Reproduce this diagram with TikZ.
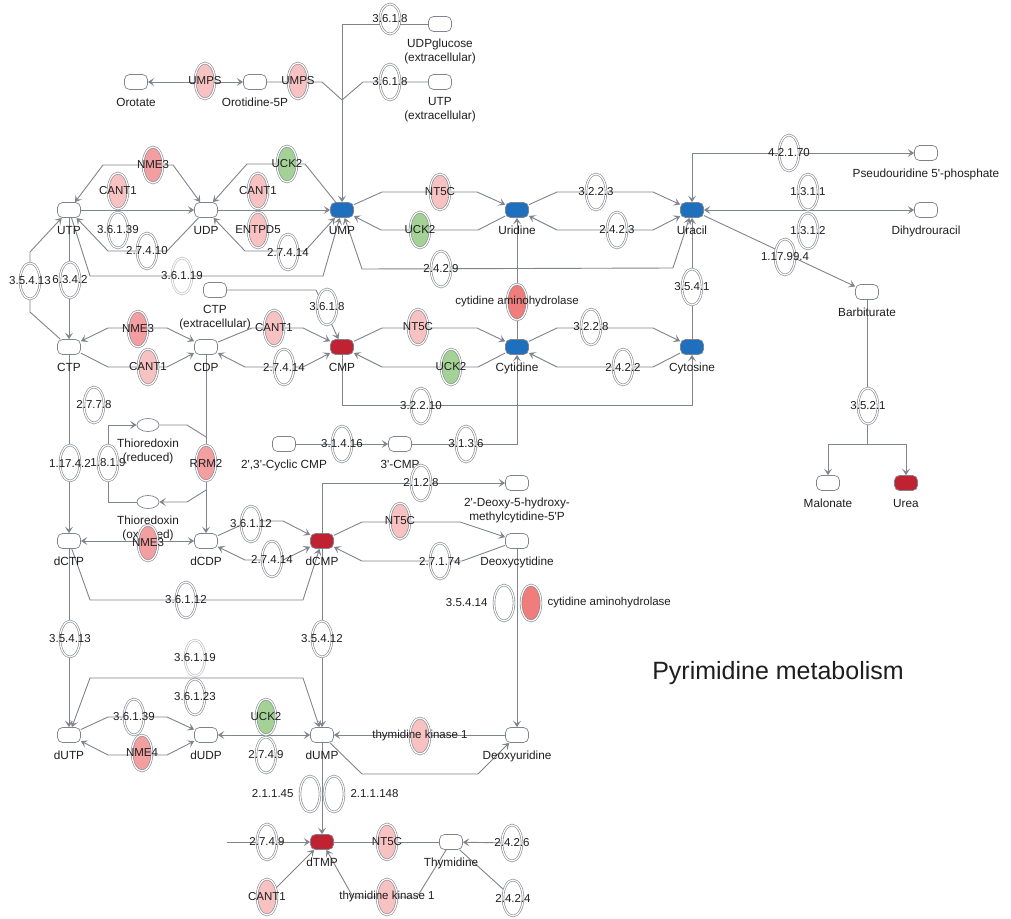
\documentclass[tikz,border=0pt]{standalone}
\usepackage{fontspec}
\setmainfont{Liberation Sans}
\usepackage{tikz}
\usetikzlibrary{arrows.meta,shapes.geometric}
\pgfdeclarelayer{bg}
\pgfsetlayers{bg,main}
\definecolor{lgray}{RGB}{128,132,140}
\definecolor{fgray}{RGB}{185,185,190}
\definecolor{txt}{RGB}{30,30,30}
\definecolor{mblue}{RGB}{30,112,190}
\definecolor{mred}{RGB}{192,34,50}
\definecolor{pinkA}{RGB}{248,194,194}
\definecolor{pinkB}{RGB}{243,158,160}
\definecolor{redE}{RGB}{240,124,124}
\definecolor{greenE}{RGB}{164,210,150}
\newcommand{\ap}{\textquotesingle}

\begin{document}
\begin{tikzpicture}[x=1pt, y=-1pt, label distance=6pt,
  met/.style={draw=lgray, fill=white, rounded corners=5pt, minimum width=23pt, minimum height=15pt, inner sep=0pt, line width=0.7pt},
  thio/.style={ellipse, draw=lgray, fill=white, minimum width=22pt, minimum height=13pt, inner sep=0pt, line width=0.7pt},
  enz/.style={ellipse, draw=lgray, double=white, double distance=1.2pt, line width=0.6pt, fill=white, minimum width=20pt, minimum height=36pt, inner sep=0pt},
  pA/.style={fill=pinkA}, pB/.style={fill=pinkB}, pR/.style={fill=redE}, gr/.style={fill=greenE}, faint/.style={draw=fgray},
  lbl/.style={font=\fontsize{11.8}{14}\selectfont, text=txt, inner sep=1pt, text height=9pt, text depth=2.5pt},
  lbl2/.style={font=\fontsize{11.8}{14}\selectfont, text=txt, inner sep=1pt, align=center},
  etxt/.style={font=\fontsize{11.5}{13}\selectfont, text=txt, inner sep=0pt},
  tag/.style={label={[lbl]below:#1}},
  tag2/.style={label={[lbl2]below:{#1}}},
  etx/.style={label={[etxt]center:#1}},
  ltx/.style={label={[etxt]left:#1}},
  rtx/.style={label={[etxt]right:#1}},
  ln/.style={draw=lgray, line width=0.9pt},
  arr/.style={ln, -{Stealth[length=6.5pt,width=8pt,inset=3pt]}},
  arrb/.style={ln, {Stealth[length=6.5pt,width=8pt,inset=3pt]}-{Stealth[length=6.5pt,width=8pt,inset=3pt]}},
  ttl/.style={font=\fontsize{25}{30}\selectfont, text=txt}]
\useasboundingbox (0,0) rectangle (1011,918);

\node[met, tag=Orotate] (orotate) at (136,82) {};
\node[met, tag=Orotidine-5P] (orot5p) at (255,82) {};
\node[met, tag2={UDPglucose\\(extracellular)}] (udpglc) at (440,24) {};
\node[met, tag2={UTP\\(extracellular)}] (utpext) at (440,82) {};
\node[met, tag=UTP] (utp) at (69,210) {};
\node[met, tag=UDP] (udp) at (206,210) {};
\node[met, fill=mblue, tag=UMP] (ump) at (342,210) {};
\node[met, fill=mblue, tag=Uridine] (uridine) at (517,210) {};
\node[met, fill=mblue, tag=Uracil] (uracil) at (692,210) {};
\node[met, tag={Pseudouridine 5\ap-phosphate}] (pseudo) at (926,153) {};
\node[met, tag=Dihydrouracil] (dihydro) at (926,210) {};
\node[met, tag=Barbiturate] (barb) at (867,292) {};
\node[met, tag2={CTP\\(extracellular)}] (ctpext) at (215,290) {};
\node[met, tag=CTP] (ctp) at (69,347) {};
\node[met, tag=CDP] (cdp) at (206,347) {};
\node[met, fill=mred, tag=CMP] (cmp) at (342,347) {};
\node[met, fill=mblue, tag=Cytidine] (cytidine) at (517,347) {};
\node[met, fill=mblue, tag=Cytosine] (cytosine) at (692,347) {};
\node[thio, tag2={Thioredoxin\\(reduced)}] (thiored) at (148,425) {};
\node[thio, tag2={Thioredoxin\\(oxidized)}] (thioox) at (148,502) {};
\node[met, tag={2\ap{},3\ap-Cyclic CMP}] (cyccmp) at (284,444) {};
\node[met, tag={3\ap-CMP}] (cmp3) at (400,444) {};
\node[met, tag2={2\ap-Deoxy-5-hydroxy-\\methylcytidine-5\ap P}] (dhmc) at (517,483) {};
\node[met, tag=Malonate] (malonate) at (828,483) {};
\node[met, fill=mred, tag=Urea] (urea) at (906,483) {};
\node[met, tag=dCTP] (dctp) at (69,541) {};
\node[met, tag=dCDP] (dcdp) at (206,541) {};
\node[met, fill=mred, tag=dCMP] (dcmp) at (322,541) {};
\node[met, tag=Deoxycytidine] (deoxycyt) at (517,541) {};
\node[met, tag=dUTP] (dutp) at (69,735) {};
\node[met, tag=dUDP] (dudp) at (206,735) {};
\node[met, tag=dUMP] (dump) at (322,735) {};
\node[met, tag=Deoxyuridine] (deoxyur) at (517,735) {};
\node[met, fill=mred, tag=dTMP] (dtmp) at (322,842) {};
\node[met, tag=Thymidine] (thymidine) at (451,842) {};
\coordinate (split) at (867,444);
\coordinate (rrin) at (206,437);
\coordinate (rrout) at (206,490);
\coordinate (dtmpin) at (227,842);

\node[enz, pA, etx=UMPS] (umps1) at (205,81) {};
\node[enz, pA, etx=UMPS] (umps2) at (298,81) {};
\node[enz, etx=3.6.1.8, minimum height=30pt] (e3618a) at (390,19) {};
\node[enz, etx=3.6.1.8] (e3618b) at (390,82) {};
\node[enz, pB, etx=NME3] (nme3a) at (153,165) {};
\node[enz, pA, etx=CANT1] (cant1a) at (118,191) {};
\node[enz, etx=3.6.1.39] (e36139a) at (118,230) {};
\node[enz, etx=2.7.4.10] (e27410) at (147,251) {};
\node[enz, faint, etx=3.6.1.19] (e36119a) at (182,276) {};
\node[enz, gr, etx=UCK2] (uck2a) at (287,164) {};
\node[enz, pA, etx=CANT1] (cant1b) at (258,191) {};
\node[enz, pA, etx=ENTPD5] (entpd5) at (258,230) {};
\node[enz, etx=2.7.4.14] (e27414a) at (288,252) {};
\node[enz, etx=3.5.4.13] (e35413a) at (30,281) {};
\node[enz, etx=6.3.4.2] (e6342) at (70,280) {};
\node[enz, pA, etx=NT5C] (nt5ca) at (440,192) {};
\node[enz, gr, etx=UCK2] (uck2b) at (420,230) {};
\node[enz, etx=2.4.2.9] (e2429) at (441,269) {};
\node[enz, etx=3.2.2.3] (e3223) at (596,192) {};
\node[enz, etx=2.4.2.3] (e2423) at (617,230) {};
\node[enz, etx=4.2.1.70] (e42170) at (789,153) {};
\node[enz, etx=1.3.1.1] (e1311) at (808,192) {};
\node[enz, etx=1.3.1.2] (e1312) at (808,231) {};
\node[enz, etx=1.17.99.4] (e117994) at (785,257) {};
\node[enz, etx=3.5.4.1] (e3541) at (692,287) {};
\node[enz, pR, etx=cytidine aminohydrolase] (cda1) at (517,302) {};
\node[enz, etx=3.6.1.8] (e3618c) at (327,307) {};
\node[enz, pB, etx=NME3] (nme3b) at (138,329) {};
\node[enz, pA, etx=CANT1] (cant1c) at (148,367) {};
\node[enz, pA, etx=CANT1] (cant1d) at (274,328) {};
\node[enz, etx=2.7.4.14] (e27414b) at (284,367) {};
\node[enz, pA, etx=NT5C] (nt5cb) at (418,327) {};
\node[enz, gr, etx=UCK2] (uck2c) at (451,367) {};
\node[enz, etx=3.2.2.8] (e3228) at (591,327) {};
\node[enz, etx=2.4.2.2] (e2422) at (623,367) {};
\node[enz, etx=3.2.2.10] (e32210) at (421,406) {};
\node[enz, etx=3.5.2.1] (e3521) at (868,406) {};
\node[enz, etx=2.7.7.8] (e2778) at (94,405) {};
\node[enz, etx=1.17.4.2] (e11742) at (70,463) {};
\node[enz, etx=1.8.1.9] (e1819) at (108,463) {};
\node[enz, pB, etx=RRM2] (rrm2) at (206,463) {};
\node[enz, etx=3.1.4.16] (e31416) at (342,444) {};
\node[enz, etx=3.1.3.6] (e3136) at (466,444) {};
\node[enz, etx=2.1.2.8] (e2128) at (421,483) {};
\node[enz, pB, etx=NME3] (nme3c) at (148,543) {};
\node[enz, etx=3.6.1.12] (e36112a) at (251,524) {};
\node[enz, etx=2.7.4.14] (e27414c) at (272,559) {};
\node[enz, pA, etx=NT5C] (nt5cc) at (400,521) {};
\node[enz, etx=2.7.1.74] (e27174) at (440,561) {};
\node[enz, etx=3.6.1.12] (e36112b) at (186,600) {};
\node[enz, ltx=3.5.4.14] (e35414) at (504,603) {};
\node[enz, pR, rtx=cytidine aminohydrolase] (cda2) at (531,603) {};
\node[enz, etx=3.5.4.13] (e35413b) at (70,639) {};
\node[enz, etx=3.5.4.12] (e35412) at (322,639) {};
\node[enz, faint, etx=3.6.1.19] (e36119b) at (195,658) {};
\node[enz, etx=3.6.1.23] (e36123) at (195,697) {};
\node[enz, etx=3.6.1.39] (e36139b) at (134,717) {};
\node[enz, pB, etx=NME4] (nme4) at (142,753) {};
\node[enz, gr, etx=UCK2] (uck2d) at (266,717) {};
\node[enz, etx=2.7.4.9] (e2749a) at (266,755) {};
\node[enz, pA, etx=thymidine kinase 1] (tk1a) at (420,736) {};
\node[enz, ltx=2.1.1.45] (e21145) at (310,794) {};
\node[enz, rtx=2.1.1.148] (e211148) at (334,794) {};
\node[enz, etx=2.7.4.9] (e2749b) at (267,842) {};
\node[enz, pA, etx=NT5C] (nt5cd) at (387,842) {};
\node[enz, etx=2.4.2.6] (e2426) at (512,843) {};
\node[enz, pA, etx=CANT1] (cant1e) at (267,897) {};
\node[enz, pA, etx=thymidine kinase 1] (tk1b) at (387,897) {};
\node[enz, etx=2.4.2.4] (e2424) at (513,898) {};

\node[ttl] (title) at (778,673) {Pyrimidine metabolism};

\begin{pgfonlayer}{bg}
\fill[white] (0,0) rectangle (1011,918);
\foreach \a/\b in {utp/udp, udp/ump, utp/ctp, cytidine/uridine, cytosine/uracil, uracil/barb, cyccmp/cmp3, ctp/dctp, cdp/dcdp, deoxycyt/deoxyur, dctp/dutp, dcmp/dump, deoxyur/dump, dump/dtmp, dtmpin/dtmp, e2426/thymidine, cant1e/dtmp}
  \draw[arr] (\a) -- (\b);
\foreach \a/\b in {orotate/orot5p, uracil/dihydro, dctp/dcdp, dudp/dump}
  \draw[arrb] (\a) -- (\b);
\draw[ln] (orot5p) -- (322,82) -- (342,100);
\draw[ln] (utpext) -- (363,82) -- (342,100);
\draw[arr] (udpglc) -- (342,24) -- (ump);
\draw[arrb] (utp) -- (103,165) -- (173,165) -- (udp);
\draw[arr] (udp) -- (167,251) -- (108,251) -- (utp);
\draw[arr] (ump) -- (305,164) -- (247,164) -- (udp);
\draw[arrb] (udp) -- (245,251) -- (305,251) -- (ump);
\draw[arr] (utp) -- (90,276) -- (323,276) -- (ump);
\draw[arr] (ctp) -- (30,312) -- (30,252) -- (utp);
\draw[arr] (ump) -- (382,192) -- (477,192) -- (uridine);
\draw[arr] (uridine) -- (478,230) -- (381,230) -- (ump);
\draw[arr] (uridine) -- (557,192) -- (653,192) -- (uracil);
\draw[arrb] (uracil) -- (653,230) -- (557,230) -- (uridine);
\draw[arrb] (uracil) -- (673,268) -- (362,269) -- (ump);
\draw[arrb] (uracil) -- (692,153) -- (pseudo);
\draw[ln] (barb) -- (split);
\draw[arr] (split) -| (malonate);
\draw[arr] (split) -| (urea);
\draw[arrb] (ctp) -- (108,328) -- (167,328) -- (cdp);
\draw[arr] (ctp) -- (108,367) -- (167,367) -- (cdp);
\draw[arr] (cdp) -- (252,328) -- (303,328) -- (cmp);
\draw[arrb] (cmp) -- (303,367) -- (245,367) -- (cdp);
\draw[arr] (ctpext) -- (316,290) -- (cmp);
\draw[arr] (cmp) -- (382,328) -- (477,328) -- (cytidine);
\draw[arr] (cytidine) -- (478,367) -- (382,367) -- (cmp);
\draw[arr] (cytidine) -- (557,328) -- (653,328) -- (cytosine);
\draw[arr] (cytosine) -- (653,367) -- (557,367) -- (cytidine);
\draw[arr] (cmp) -- (342,405) -- (692,405) -- (cytosine);
\draw[arr] (cmp3) -- (517,444) -- (cytidine);
\draw[arr] (thioox) -- (108,502) -- (108,425) -- (thiored);
\draw[ln] (thiored) -- (187,425) -- (rrin);
\draw[arr] (rrout) -- (187,502) -- (thioox);
\draw[arr] (dcdp) -- (250,521) -- (283,521) -- (dcmp);
\draw[arrb] (dcmp) -- (283,560) -- (245,560) -- (dcdp);
\draw[arr] (dctp) -- (90,600) -- (303,600) -- (dcmp);
\draw[arr] (dcmp) -- (322,483) -- (dhmc);
\draw[arr] (dcmp) -- (362,522) -- (460,522) -- (deoxycyt);
\draw[arr] (deoxycyt) -- (462,561) -- (362,561) -- (dcmp);
\draw[arr] (dutp) -- (108,717) -- (167,717) -- (dudp);
\draw[arrb] (dutp) -- (108,755) -- (167,755) -- (dudp);
\draw[arrb] (dutp) -- (90,678) -- (303,678) -- (dump);
\draw[arr] (dump) -- (362,774) -- (478,774) -- (deoxyur);
\draw[ln] (thymidine) -- (dtmp);
\draw[ln] (thymidine) -- (e2424);
\draw[arr] (thymidine) -- (417,897) -- (353,897) -- (dtmp);
\end{pgfonlayer}
\end{tikzpicture}
\end{document}
